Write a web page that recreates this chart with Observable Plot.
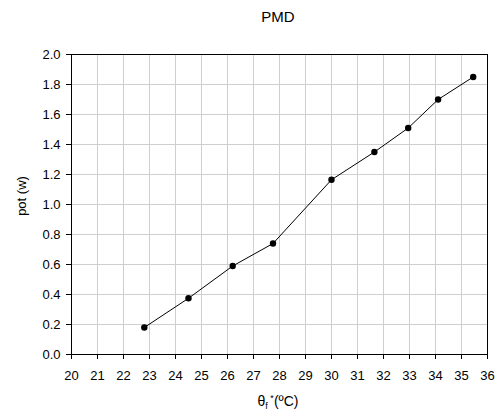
<!DOCTYPE html>
<html>
<head>
<meta charset="utf-8">
<script src="https://cdn.jsdelivr.net/npm/d3@7"></script>
<script src="https://cdn.jsdelivr.net/npm/@observablehq/plot@0.6"></script>
<style>
  body { margin: 0; background: #fff; }
  #chart svg { display: block; }
</style>
</head>
<body>
<div id="chart"></div>
<script>
const temperature = [22.8, 24.5, 26.2, 27.75, 30.0, 31.65, 32.95, 34.1, 35.45];
const power = [0.18, 0.375, 0.59, 0.74, 1.165, 1.35, 1.51, 1.70, 1.85];
const xTicks = d3.range(20, 37, 1);
const yTicks = d3.range(0, 2.01, 0.2).map(v => +v.toFixed(1));
const title = "PMD";
const yLabel = "pot (w)";

const data = temperature.map((t, i) => ({t, p: power[i]}));
const font = "Liberation Sans, Arial, sans-serif";

const chart = Plot.plot({
  width: 499,
  height: 416,
  marginLeft: 71,
  marginRight: 12,
  marginTop: 54,
  marginBottom: 62,
  style: {fontFamily: font, fontSize: "13px", color: "#000", background: "#fff"},
  x: {domain: [20, 36]},
  y: {domain: [0, 2]},
  marks: [
    Plot.gridX(xTicks, {stroke: "#cfcfcf", strokeOpacity: 1, strokeWidth: 1}),
    Plot.gridY(yTicks, {stroke: "#cfcfcf", strokeOpacity: 1, strokeWidth: 1}),
    Plot.axisX(xTicks, {tickSize: 5, tickPadding: 11, label: null, stroke: "#000"}),
    Plot.axisY(yTicks, {tickSize: 5, tickPadding: 6, label: null, tickFormat: d3.format(".1f"), stroke: "#000"}),
    Plot.frame({stroke: "#000", strokeWidth: 1}),
    Plot.line(data, {x: "t", y: "p", stroke: "#000", strokeWidth: 1}),
    Plot.dot(data, {x: "t", y: "p", r: 3.2, fill: "#000", stroke: "none"})
  ]
});
document.getElementById("chart").appendChild(chart);

const svg = d3.select(chart);
svg.append("text")
  .attr("x", 278).attr("y", 22)
  .attr("text-anchor", "middle")
  .attr("font-family", font).attr("font-size", 15).attr("fill", "#000")
  .text(title);

svg.append("text")
  .attr("transform", "translate(26,196) rotate(-90)")
  .attr("text-anchor", "middle")
  .attr("font-family", font).attr("font-size", 13).attr("fill", "#000")
  .text(yLabel);

const xl = svg.append("text")
  .attr("x", 278).attr("y", 406)
  .attr("text-anchor", "middle")
  .attr("font-family", font).attr("font-size", 14).attr("fill", "#000");
xl.append("tspan").text("θ");
xl.append("tspan").attr("font-size", 9).attr("dy", 3).text("f");
xl.append("tspan").attr("font-size", 9).attr("dy", -8).text(" *");
xl.append("tspan").attr("dy", 5).text("(ºC)");
</script>
</body>
</html>
